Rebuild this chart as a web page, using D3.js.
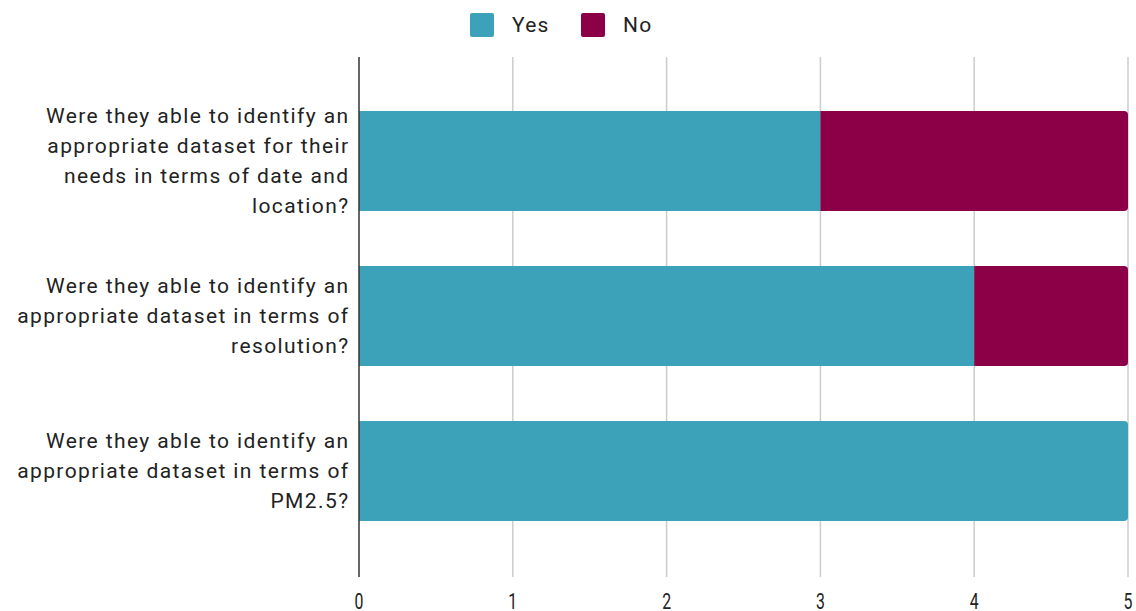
<!DOCTYPE html>
<html lang="en">
<head>
    <meta charset="UTF-8">
    <title>Dataset identification</title>
    <script src="https://d3js.org/d3.v7.min.js"></script>
    <style>
        body {
            margin: 0;
            background: #fff;
            font-family: Roboto, Arial, sans-serif;
        }
    </style>
</head>
<body>
    <div id="chart"></div>

    <script>
        // Data
        const categories = [
            ["Were they able to identify an", "appropriate dataset for their", "needs in terms of date and", "location?"],
            ["Were they able to identify an", "appropriate dataset in terms of", "resolution?"],
            ["Were they able to identify an", "appropriate dataset in terms of", "PM2.5?"]
        ];
        const seriesNames = ["Yes", "No"];
        const yesValues = [3, 4, 5];
        const noValues = [2, 1, 0];
        const xTicks = [0, 1, 2, 3, 4, 5];

        const colors = { Yes: "#3ca2b9", No: "#8b0046" };

        const width = 1136, height = 611;
        const plotLeft = 359, plotRight = 1128, plotTop = 57, plotBottom = 577;

        const svg = d3.select("#chart")
            .append("svg")
            .attr("width", width)
            .attr("height", height);

        const x = d3.scaleLinear()
            .domain([0, 5])
            .range([plotLeft, plotRight]);

        const y = d3.scaleBand()
            .domain(d3.range(categories.length))
            .range([83.5, 548.5])
            .paddingInner(0.355)
            .paddingOuter(0.1775);

        // gridlines
        svg.append("g")
            .selectAll("line")
            .data(xTicks.slice(1))
            .join("line")
            .attr("x1", d => x(d)).attr("x2", d => x(d))
            .attr("y1", plotTop).attr("y2", plotBottom)
            .attr("stroke", "#cccccc")
            .attr("stroke-width", 1.5);

        // bars
        function segPath(x0, x1, y0, h, roundRight) {
            const r = roundRight ? Math.min(4, (x1 - x0) / 2) : 0;
            return `M${x0},${y0}H${x1 - r}` +
                (r ? `Q${x1},${y0} ${x1},${y0 + r}` : "") +
                `V${y0 + h - r}` +
                (r ? `Q${x1},${y0 + h} ${x1 - r},${y0 + h}` : "") +
                `H${x0}Z`;
        }

        const bars = svg.append("g");
        categories.forEach((c, i) => {
            const segs = [
                { name: "Yes", start: 0, end: yesValues[i] },
                { name: "No", start: yesValues[i], end: yesValues[i] + noValues[i] }
            ].filter(s => s.end > s.start);
            segs.forEach((s, j) => {
                bars.append("path")
                    .attr("d", segPath(x(s.start), x(s.end), y(i), y.bandwidth(), j === segs.length - 1))
                    .attr("fill", colors[s.name]);
            });
        });

        // baseline axis
        svg.append("line")
            .attr("x1", x(0)).attr("x2", x(0))
            .attr("y1", plotTop).attr("y2", plotBottom)
            .attr("stroke", "#333")
            .attr("stroke-width", 1.5);

        // x tick labels (narrow, tall digits as in the original)
        svg.append("g")
            .selectAll("text")
            .data(xTicks)
            .join("text")
            .attr("transform", d => `translate(${x(d)},609) scale(0.72,1)`)
            .attr("text-anchor", "middle")
            .attr("font-size", 22)
            .attr("fill", "#222")
            .text(d => d);

        // category labels
        const lineH = 30;
        const labels = svg.append("g");
        categories.forEach((lines, i) => {
            const cy = y(i) + y.bandwidth() / 2;
            const y0 = cy - (lines.length - 1) * lineH / 2;
            const t = labels.append("text")
                .attr("text-anchor", "end")
                .attr("font-size", 21)
                .attr("letter-spacing", 1.4)
                .attr("fill", "#222");
            lines.forEach((l, k) => {
                t.append("tspan")
                    .attr("x", 349.5)
                    .attr("y", y0 + k * lineH)
                    .attr("dy", "0.35em")
                    .text(l);
            });
        });

        // legend
        const legend = svg.append("g");
        const legendX = [470, 581];
        seriesNames.forEach((n, i) => {
            legend.append("rect")
                .attr("x", legendX[i]).attr("y", 13)
                .attr("width", 24).attr("height", 24)
                .attr("rx", 2)
                .attr("fill", colors[n]);
            legend.append("text")
                .attr("x", legendX[i] + 42)
                .attr("y", 25)
                .attr("dy", "0.35em")
                .attr("font-size", 21)
                .attr("letter-spacing", 1.2)
                .attr("fill", "#222")
                .text(n);
        });
    </script>
</body>
</html>
